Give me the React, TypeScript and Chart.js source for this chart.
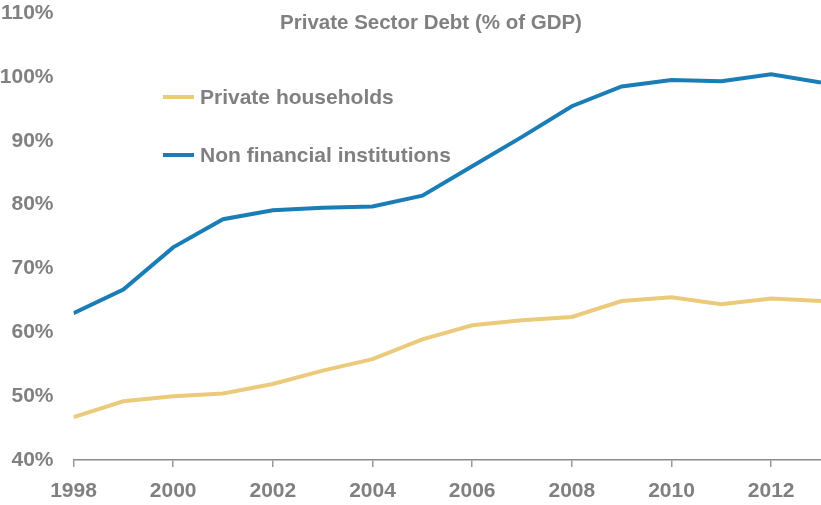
import React, { useEffect, useRef } from "react";
import { Chart, registerables } from "chart.js";

Chart.register(...registerables);

const years = [1998, 1999, 2000, 2001, 2002, 2003, 2004, 2005, 2006, 2007, 2008, 2009, 2010, 2011, 2012, 2013];
const households = [46.7, 49.2, 50.0, 50.4, 51.9, 54.0, 55.8, 58.9, 61.1, 61.9, 62.4, 64.9, 65.5, 64.4, 65.3, 64.9];
const nonFinancial = [63.0, 66.7, 73.3, 77.7, 79.1, 79.5, 79.7, 81.4, 86.0, 90.6, 95.4, 98.5, 99.5, 99.3, 100.4, 99.1];
const xTickYears = [1998, 2000, 2002, 2004, 2006, 2008, 2010, 2012];
const seriesLabels = ["Private households", "Non financial institutions"];
const titleText = "Private Sector Debt (% of GDP)";

const FONT = "'Liberation Sans', Arial, sans-serif";
const GRAY = "#808080";
const YELLOW = "#EBCB7B";
const BLUE = "#1A7DB6";

const overlayPlugin = {
  id: "overlay",
  afterDraw(chart: any) {
    const ctx = chart.ctx;
    ctx.save();
    ctx.fillStyle = GRAY;
    ctx.font = `bold 20.5px ${FONT}`;
    ctx.textAlign = "center";
    ctx.textBaseline = "middle";
    ctx.fillText(titleText, 431, 23);

    const rows = [97, 155];
    chart.data.datasets.forEach((ds: any, i: number) => {
      const y = rows[i];
      ctx.strokeStyle = ds.borderColor;
      ctx.lineWidth = 4;
      ctx.beginPath();
      ctx.moveTo(163, y);
      ctx.lineTo(194, y);
      ctx.stroke();
      ctx.fillStyle = GRAY;
      ctx.font = `bold 21px ${FONT}`;
      ctx.textAlign = "left";
      ctx.textBaseline = "middle";
      ctx.fillText(ds.label, 200, y + 1);
    });
    ctx.restore();
  },
};

export default function App() {
  const ref = useRef<HTMLCanvasElement | null>(null);

  useEffect(() => {
    if (!ref.current) return;
    const chart = new Chart(ref.current, {
      type: "line",
      data: {
        datasets: [
          {
            label: seriesLabels[0],
            data: years.map((y, i) => ({ x: y, y: households[i] })),
            borderColor: YELLOW,
            backgroundColor: YELLOW,
            borderWidth: 4,
            pointRadius: 0,
            tension: 0,
          },
          {
            label: seriesLabels[1],
            data: years.map((y, i) => ({ x: y, y: nonFinancial[i] })),
            borderColor: BLUE,
            backgroundColor: BLUE,
            borderWidth: 4,
            pointRadius: 0,
            tension: 0,
          },
        ],
      },
      options: {
        animation: false,
        responsive: false,
        layout: { padding: 0, autoPadding: false },
        plugins: {
          legend: { display: false },
          title: { display: false },
          tooltip: { enabled: false },
        },
        scales: {
          x: {
            type: "linear",
            min: 1998,
            max: 2013,
            afterBuildTicks: (scale: any) => {
              scale.ticks = xTickYears.map((v) => ({ value: v }));
            },
            afterFit: (scale: any) => {
              scale.height = 45;
              scale.paddingLeft = 0;
              scale.paddingRight = 0;
            },
            ticks: {
              color: GRAY,
              font: { family: FONT, size: 21, weight: "bold" },
              padding: 12,
              maxRotation: 0,
              autoSkip: false,
              callback: (v: any) => String(v),
            },
            grid: {
              display: true,
              drawOnChartArea: false,
              drawTicks: true,
              tickLength: 7,
              color: "#9a9a9a",
              lineWidth: 1.5,
            },
            border: { display: true, color: "#8a8a8a", width: 1.5 },
          },
          y: {
            min: 40,
            max: 110,
            afterFit: (scale: any) => {
              scale.width = 73.5;
              scale.paddingTop = 13;
              scale.paddingBottom = 0;
            },
            ticks: {
              stepSize: 10,
              color: GRAY,
              font: { family: FONT, size: 21, weight: "bold" },
              padding: 20,
              callback: (v: any) => v + "%",
            },
            grid: { display: false, drawTicks: false },
            border: { display: false },
          },
        },
      },
      plugins: [overlayPlugin],
    });
    return () => chart.destroy();
  }, []);

  return (
    <div style={{ position: "absolute", left: 0, top: 0, width: 821, height: 505, background: "#fff" }}>
      <canvas ref={ref} width={821} height={505} style={{ display: "block", width: 821, height: 505 }} />
    </div>
  );
}
